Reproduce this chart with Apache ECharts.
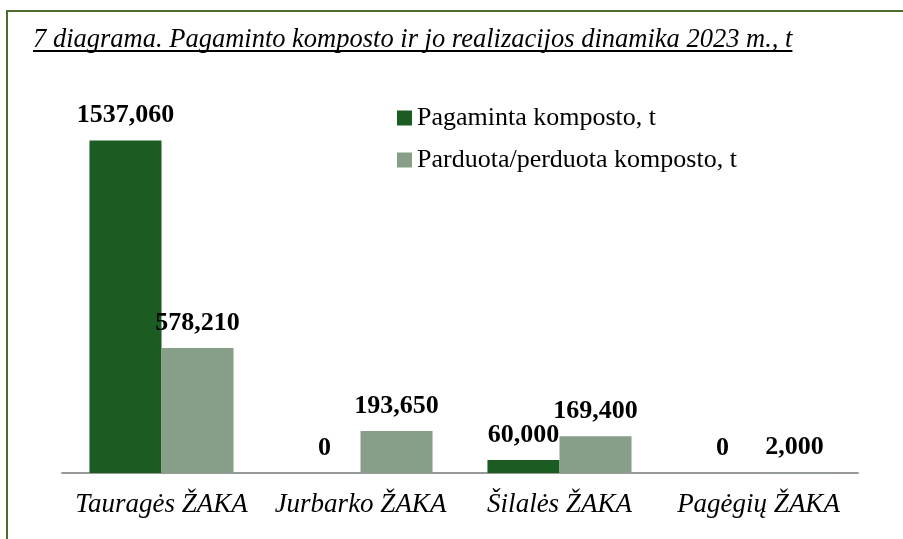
<!DOCTYPE html>
<html>
<head>
<meta charset="utf-8">
<script src="https://cdn.jsdelivr.net/npm/echarts@6/dist/echarts.min.js"></script>
<style>
  html, body { margin: 0; padding: 0; background: #fff; }
  #main { width: 903px; height: 539px; position: relative; }
  #frame {
    position: absolute; left: 6px; top: 10px; width: 910px; height: 540px;
    border-left: 2px solid #4e6b30; border-top: 2px solid #4e6b30;
    pointer-events: none;
  }
</style>
</head>
<body>
<div id="main"></div>
<div id="frame"></div>
<script>
// duomenys
const titleText = '7 diagrama. Pagaminto komposto ir jo realizacijos dinamika 2023 m., t';
const categories = ['Tauragės ŽAKA', 'Jurbarko ŽAKA', 'Šilalės ŽAKA', 'Pagėgių ŽAKA'];
const seriesNames = ['Pagaminta komposto, t', 'Parduota/perduota komposto, t'];
const produced = [1537.06, 0, 60, 0];
const sold = [578.21, 193.65, 169.4, 2];

const serif = "'Liberation Serif', 'Times New Roman', serif";
const titleSize = 26.5;

// underline width for the title
const ctx = document.createElement('canvas').getContext('2d');
ctx.font = 'italic ' + titleSize + 'px ' + serif;
const titleWidth = ctx.measureText(titleText).width;

function fmt(p) {
  if (p.value === 0) return '0';
  return p.value.toFixed(3).replace('.', ',');
}

const labelStyle = {
  show: true,
  position: 'top',
  distance: 12,
  formatter: fmt,
  fontFamily: serif,
  fontWeight: 'bold',
  fontSize: 26,
  color: '#000'
};

const chart = echarts.init(document.getElementById('main'));
chart.setOption({
  animation: false,
  graphic: [
    {
      type: 'text', left: 33, top: 27,
      style: { text: titleText, font: 'italic ' + titleSize + 'px ' + serif, fill: '#000' }
    },
    {
      type: 'line',
      shape: { x1: 33, y1: 51, x2: 33 + titleWidth, y2: 51 },
      style: { stroke: '#000', lineWidth: 2 }
    }
  ],
  legend: {
    orient: 'vertical',
    left: 392,
    top: 100,
    itemWidth: 15,
    itemHeight: 15,
    itemGap: 16,
    icon: 'rect',
    textStyle: { fontFamily: serif, fontSize: 26, color: '#000', padding: [3, 0, 0, 0] },
    data: seriesNames
  },
  grid: { left: 62, right: 45, top: 127, bottom: 66 },
  xAxis: {
    type: 'category',
    data: categories,
    axisLine: { lineStyle: { color: '#999', width: 2 } },
    axisTick: { show: false },
    axisLabel: { interval: 0, fontFamily: serif, fontStyle: 'italic', fontSize: 27, color: '#000', margin: 18 }
  },
  yAxis: {
    type: 'value',
    min: 0,
    max: 1600,
    show: false,
    splitLine: { show: false }
  },
  series: [
    {
      name: seriesNames[0], type: 'bar', data: produced,
      itemStyle: { color: '#1b5c22' },
      barGap: '0%', barCategoryGap: '27.6%',
      label: labelStyle
    },
    {
      name: seriesNames[1], type: 'bar', data: sold,
      itemStyle: { color: '#879f88' },
      label: labelStyle
    }
  ]
});
</script>
</body>
</html>
